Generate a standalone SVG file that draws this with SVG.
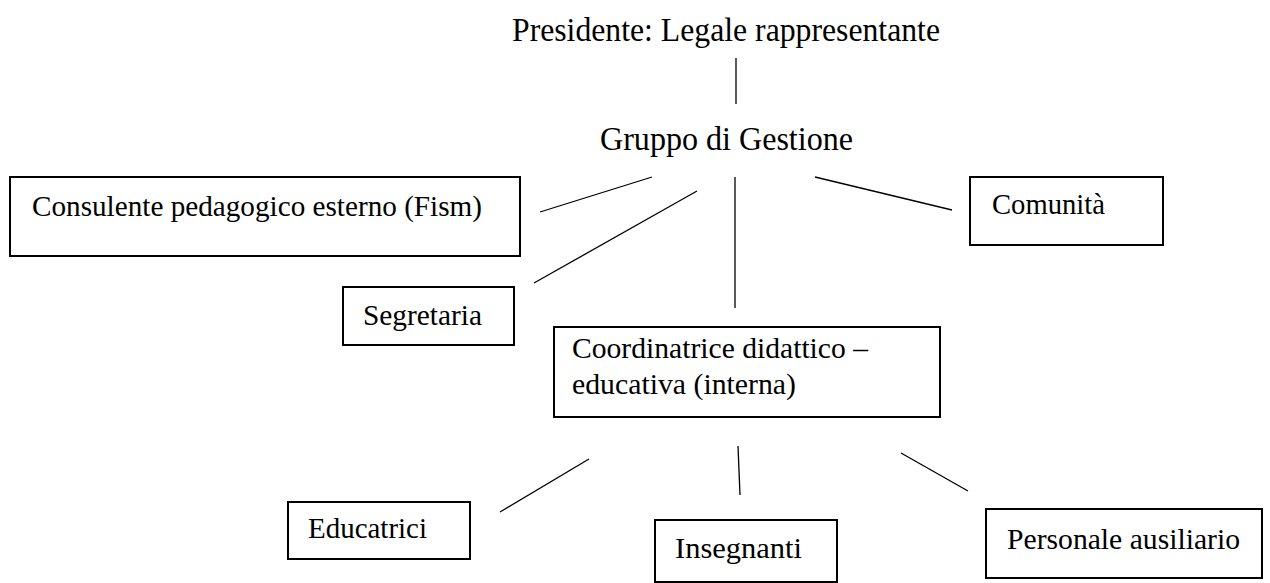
<svg xmlns="http://www.w3.org/2000/svg" width="1270" height="583" viewBox="0 0 1270 583">
<style>
.t{font-family:"Liberation Serif","Times New Roman",serif;font-size:30px;fill:#000}
.h{font-size:33px}
.b{fill:#fff;stroke:#000;stroke-width:2}
.c line{stroke:#000;stroke-width:1.3}
</style>
<rect width="1270" height="583" fill="#fff"/>
<g id="connectors" class="c">
<line x1="736" y1="58" x2="736" y2="104"/>
<line x1="540" y1="212" x2="652" y2="177"/>
<line x1="534" y1="283" x2="697" y2="191"/>
<line x1="735" y1="177" x2="735" y2="308"/>
<line x1="815" y1="177" x2="952" y2="210"/>
<line x1="500" y1="512" x2="589" y2="459"/>
<line x1="738" y1="446" x2="740" y2="495"/>
<line x1="901" y1="453" x2="968" y2="491"/>
</g>
<g id="presidente"><text class="t h" x="512" y="41" textLength="428" lengthAdjust="spacingAndGlyphs">Presidente: Legale rappresentante</text></g>
<g id="gruppo"><text class="t h" x="600" y="150" textLength="253" lengthAdjust="spacingAndGlyphs">Gruppo di Gestione</text></g>
<g id="consulente"><rect class="b" x="10" y="177" width="510" height="79"/><text class="t" x="32" y="216" textLength="450" lengthAdjust="spacingAndGlyphs">Consulente pedagogico esterno (Fism)</text></g>
<g id="comunita"><rect class="b" x="970" y="177" width="193" height="68"/><text class="t" x="992" y="214" textLength="113" lengthAdjust="spacingAndGlyphs">Comunità</text></g>
<g id="segretaria"><rect class="b" x="343" y="287" width="171" height="58"/><text class="t" x="363" y="325" textLength="119" lengthAdjust="spacingAndGlyphs">Segretaria</text></g>
<g id="coordinatrice"><rect class="b" x="554" y="327" width="386" height="90"/><text class="t" x="572" y="358" textLength="296" lengthAdjust="spacingAndGlyphs">Coordinatrice didattico –</text><text class="t" x="572" y="394" textLength="224" lengthAdjust="spacingAndGlyphs">educativa (interna)</text></g>
<g id="educatrici"><rect class="b" x="288" y="502" width="182" height="57"/><text class="t" x="308" y="538" textLength="119" lengthAdjust="spacingAndGlyphs">Educatrici</text></g>
<g id="insegnanti"><rect class="b" x="655" y="520" width="182" height="62"/><text class="t" x="675" y="558" textLength="127" lengthAdjust="spacingAndGlyphs">Insegnanti</text></g>
<g id="personale"><rect class="b" x="986" y="509" width="276" height="69"/><text class="t" x="1007" y="549" textLength="233" lengthAdjust="spacingAndGlyphs">Personale ausiliario</text></g>
</svg>
